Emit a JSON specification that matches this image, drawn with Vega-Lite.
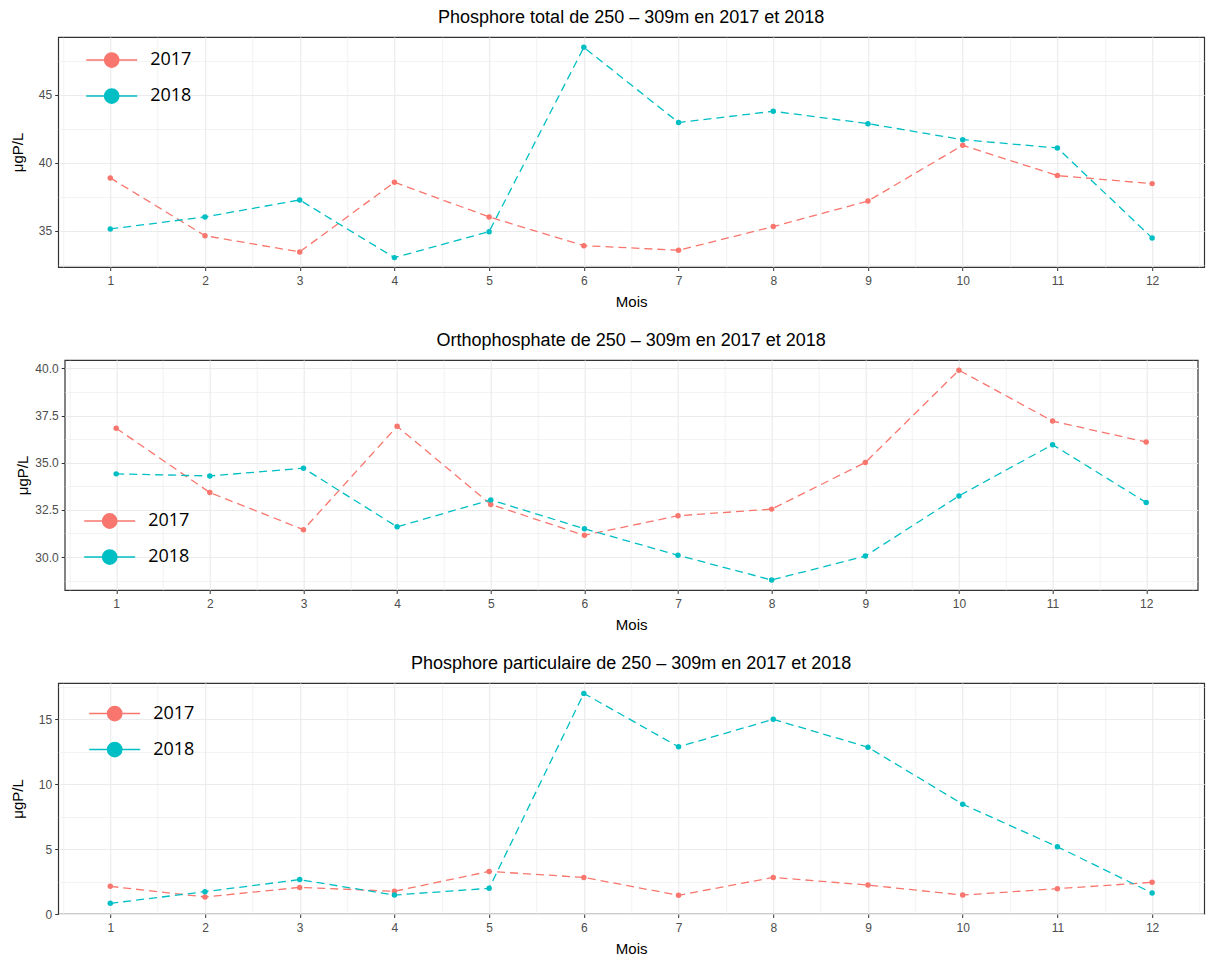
{
  "$schema": "https://vega.github.io/schema/vega-lite/v6.json",
  "padding": {"left": 9, "top": 8, "right": 5, "bottom": 5},
  "background": "white",
  "datasets": {
    "p1": [
      {"mois": 1, "annee": "2017", "value": 38.9}, {"mois": 2, "annee": "2017", "value": 34.65}, {"mois": 3, "annee": "2017", "value": 33.46},
      {"mois": 4, "annee": "2017", "value": 38.58}, {"mois": 5, "annee": "2017", "value": 36.03}, {"mois": 6, "annee": "2017", "value": 33.92},
      {"mois": 7, "annee": "2017", "value": 33.58}, {"mois": 8, "annee": "2017", "value": 35.32}, {"mois": 9, "annee": "2017", "value": 37.2},
      {"mois": 10, "annee": "2017", "value": 41.3}, {"mois": 11, "annee": "2017", "value": 39.07}, {"mois": 12, "annee": "2017", "value": 38.48},
      {"mois": 1, "annee": "2018", "value": 35.15}, {"mois": 2, "annee": "2018", "value": 36.03}, {"mois": 3, "annee": "2018", "value": 37.28},
      {"mois": 4, "annee": "2018", "value": 33.04}, {"mois": 5, "annee": "2018", "value": 34.95}, {"mois": 6, "annee": "2018", "value": 48.5},
      {"mois": 7, "annee": "2018", "value": 42.97}, {"mois": 8, "annee": "2018", "value": 43.8}, {"mois": 9, "annee": "2018", "value": 42.89},
      {"mois": 10, "annee": "2018", "value": 41.71}, {"mois": 11, "annee": "2018", "value": 41.1}, {"mois": 12, "annee": "2018", "value": 34.49}
    ],
    "p2": [
      {"mois": 1, "annee": "2017", "value": 36.83}, {"mois": 2, "annee": "2017", "value": 33.42}, {"mois": 3, "annee": "2017", "value": 31.45},
      {"mois": 4, "annee": "2017", "value": 36.93}, {"mois": 5, "annee": "2017", "value": 32.79}, {"mois": 6, "annee": "2017", "value": 31.15},
      {"mois": 7, "annee": "2017", "value": 32.19}, {"mois": 8, "annee": "2017", "value": 32.54}, {"mois": 9, "annee": "2017", "value": 35.01},
      {"mois": 10, "annee": "2017", "value": 39.91}, {"mois": 11, "annee": "2017", "value": 37.21}, {"mois": 12, "annee": "2017", "value": 36.1},
      {"mois": 1, "annee": "2018", "value": 34.41}, {"mois": 2, "annee": "2018", "value": 34.3}, {"mois": 3, "annee": "2018", "value": 34.71},
      {"mois": 4, "annee": "2018", "value": 31.6}, {"mois": 5, "annee": "2018", "value": 33.03}, {"mois": 6, "annee": "2018", "value": 31.5},
      {"mois": 7, "annee": "2018", "value": 30.09}, {"mois": 8, "annee": "2018", "value": 28.78}, {"mois": 9, "annee": "2018", "value": 30.05},
      {"mois": 10, "annee": "2018", "value": 33.24}, {"mois": 11, "annee": "2018", "value": 35.96}, {"mois": 12, "annee": "2018", "value": 32.89}
    ],
    "p3": [
      {"mois": 1, "annee": "2017", "value": 2.13}, {"mois": 2, "annee": "2017", "value": 1.31}, {"mois": 3, "annee": "2017", "value": 2.05},
      {"mois": 4, "annee": "2017", "value": 1.75}, {"mois": 5, "annee": "2017", "value": 3.28}, {"mois": 6, "annee": "2017", "value": 2.82},
      {"mois": 7, "annee": "2017", "value": 1.44}, {"mois": 8, "annee": "2017", "value": 2.82}, {"mois": 9, "annee": "2017", "value": 2.23},
      {"mois": 10, "annee": "2017", "value": 1.46}, {"mois": 11, "annee": "2017", "value": 1.95}, {"mois": 12, "annee": "2017", "value": 2.44},
      {"mois": 1, "annee": "2018", "value": 0.82}, {"mois": 2, "annee": "2018", "value": 1.72}, {"mois": 3, "annee": "2018", "value": 2.65},
      {"mois": 4, "annee": "2018", "value": 1.46}, {"mois": 5, "annee": "2018", "value": 1.98}, {"mois": 6, "annee": "2018", "value": 17.0},
      {"mois": 7, "annee": "2018", "value": 12.88}, {"mois": 8, "annee": "2018", "value": 15.0}, {"mois": 9, "annee": "2018", "value": 12.85},
      {"mois": 10, "annee": "2018", "value": 8.46}, {"mois": 11, "annee": "2018", "value": 5.18}, {"mois": 12, "annee": "2018", "value": 1.62}
    ]
  },
  "spacing": 20,
  "center": true,
  "resolve": {"scale": {"color": "independent"}, "legend": {"color": "independent"}},
  "vconcat": [
    {
      "title": "Phosphore total de 250 – 309m en 2017 et 2018",
      "width": 1146, "height": 230,
      "data": {"name": "p1"},
      "resolve": {"axis": {"x": "independent", "y": "independent"}},
      "layer": [
        {
          "mark": {"type": "line", "strokeDash": [8, 5], "strokeWidth": 1.3},
          "encoding": {
            "x": {"field": "mois", "type": "quantitative", "scale": {"domain": [0.45, 12.55], "nice": false, "zero": false},
                  "axis": {"orient": "bottom", "values": [0.5,1.5,2.5,3.5,4.5,5.5,6.5,7.5,8.5,9.5,10.5,11.5,12.5], "labels": false, "ticks": false, "domain": false, "title": null, "grid": true, "gridWidth": 0.6}},
            "y": {"field": "value", "type": "quantitative", "scale": {"domain": [32.35, 49.26], "nice": false, "zero": false},
                  "axis": {"orient": "left", "values": [32.5, 37.5, 42.5, 47.5], "labels": false, "ticks": false, "domain": false, "title": null, "grid": true, "gridWidth": 0.6}},
            "color": {"field": "annee", "type": "nominal", "scale": {"domain": ["2017", "2018"], "range": ["#F8766D", "#00BFC4"]}}
          }
        },
        {
          "mark": {"type": "point", "filled": true, "size": 30, "opacity": 1},
          "encoding": {
            "x": {"field": "mois", "type": "quantitative", "axis": {"orient": "bottom", "values": [1,2,3,4,5,6,7,8,9,10,11,12], "title": "Mois", "grid": true}},
            "y": {"field": "value", "type": "quantitative", "axis": {"orient": "left", "values": [35, 40, 45], "title": "μgP/L", "titlePadding": 13, "grid": true}},
            "color": {"field": "annee", "type": "nominal", "legend": {"title": null, "orient": "none", "legendX": 44.5, "legendY": 14,
              "encode": {"symbols": {"stroke": {"signal": "datum.value === '2018' ? '#5EB1F7' : '#F8766D'"}, "update": {"stroke": {"signal": "datum.value === '2018' ? '#5EB1F7' : '#F8766D'"}}}}}}
          }
        }
      ]
    },
    {
      "title": "Orthophosphate de 250 – 309m en 2017 et 2018",
      "width": 1133, "height": 230,
      "data": {"name": "p2"},
      "resolve": {"axis": {"x": "independent", "y": "independent"}},
      "layer": [
        {
          "mark": {"type": "line", "strokeDash": [8, 5], "strokeWidth": 1.3},
          "encoding": {
            "x": {"field": "mois", "type": "quantitative", "scale": {"domain": [0.45, 12.55], "nice": false, "zero": false},
                  "axis": {"orient": "bottom", "values": [0.5,1.5,2.5,3.5,4.5,5.5,6.5,7.5,8.5,9.5,10.5,11.5,12.5], "labels": false, "ticks": false, "domain": false, "title": null, "grid": true, "gridWidth": 0.6}},
            "y": {"field": "value", "type": "quantitative", "scale": {"domain": [28.25, 40.45], "nice": false, "zero": false},
                  "axis": {"orient": "left", "values": [28.75, 31.25, 33.75, 36.25, 38.75], "labels": false, "ticks": false, "domain": false, "title": null, "grid": true, "gridWidth": 0.6}},
            "color": {"field": "annee", "type": "nominal", "scale": {"domain": ["2017", "2018"], "range": ["#F8766D", "#00BFC4"]}}
          }
        },
        {
          "mark": {"type": "point", "filled": true, "size": 30, "opacity": 1},
          "encoding": {
            "x": {"field": "mois", "type": "quantitative", "axis": {"orient": "bottom", "values": [1,2,3,4,5,6,7,8,9,10,11,12], "title": "Mois", "grid": true}},
            "y": {"field": "value", "type": "quantitative", "axis": {"orient": "left", "values": [30, 32.5, 35, 37.5, 40], "format": ".1f", "title": "μgP/L", "grid": true}},
            "color": {"field": "annee", "type": "nominal", "legend": {"title": null, "orient": "none", "legendX": 36, "legendY": 152,
              "encode": {"symbols": {"stroke": {"signal": "datum.value === '2018' ? '#5EB1F7' : '#F8766D'"}, "update": {"stroke": {"signal": "datum.value === '2018' ? '#5EB1F7' : '#F8766D'"}}}}}}
          }
        }
      ]
    },
    {
      "title": "Phosphore particulaire de 250 – 309m en 2017 et 2018",
      "width": 1146, "height": 231,
      "data": {"name": "p3"},
      "resolve": {"axis": {"x": "independent", "y": "independent"}},
      "layer": [
        {
          "mark": {"type": "line", "strokeDash": [8, 5], "strokeWidth": 1.3},
          "encoding": {
            "x": {"field": "mois", "type": "quantitative", "scale": {"domain": [0.45, 12.55], "nice": false, "zero": false},
                  "axis": {"orient": "bottom", "values": [0.5,1.5,2.5,3.5,4.5,5.5,6.5,7.5,8.5,9.5,10.5,11.5,12.5], "labels": false, "ticks": false, "domain": false, "title": null, "grid": true, "gridWidth": 0.6}},
            "y": {"field": "value", "type": "quantitative", "scale": {"domain": [0, 17.8], "nice": false, "zero": false},
                  "axis": {"orient": "left", "values": [2.5, 7.5, 12.5, 17.5], "labels": false, "ticks": false, "domain": false, "title": null, "grid": true, "gridWidth": 0.6}},
            "color": {"field": "annee", "type": "nominal", "scale": {"domain": ["2017", "2018"], "range": ["#F8766D", "#00BFC4"]}}
          }
        },
        {
          "mark": {"type": "point", "filled": true, "size": 30, "opacity": 1},
          "encoding": {
            "x": {"field": "mois", "type": "quantitative", "axis": {"orient": "bottom", "values": [1,2,3,4,5,6,7,8,9,10,11,12], "title": "Mois", "grid": true}},
            "y": {"field": "value", "type": "quantitative", "axis": {"orient": "left", "values": [0, 5, 10, 15], "title": "μgP/L", "titlePadding": 13, "grid": true}},
            "color": {"field": "annee", "type": "nominal", "legend": {"title": null, "orient": "none", "legendX": 47.5, "legendY": 21.5,
              "encode": {"symbols": {"stroke": {"signal": "datum.value === '2018' ? '#5EB1F7' : '#F8766D'"}, "update": {"stroke": {"signal": "datum.value === '2018' ? '#5EB1F7' : '#F8766D'"}}}}}}
          }
        }
      ]
    }
  ],
  "config": {
    "view": {"stroke": "#333333", "strokeWidth": 1.2},
    "font": "Liberation Sans",
    "title": {"fontSize": 18, "fontWeight": "normal", "color": "#000000", "font": "Liberation Sans", "offset": 10, "anchor": "middle"},
    "axis": {
      "gridColor": "#EBEBEB", "gridWidth": 1.2, "domain": false,
      "tickColor": "#333333", "tickSize": 3.5, "tickWidth": 1,
      "labelColor": "#4D4D4D", "labelFontSize": 12, "labelFont": "Liberation Sans", "labelPadding": 3,
      "titleColor": "#000000", "titleFontSize": 15, "titleFontWeight": "normal", "titleFont": "Liberation Sans", "titlePadding": 4
    },
    "axisX": {"labelPadding": 5, "titlePadding": 8},
    "legend": {
      "padding": 0,
      "symbolType": "M-0.95,0 A0.95,0.95 0 1,1 0.95,0 A0.95,0.95 0 1,1 -0.95,0 Z M-3.4,0 L-1,0 M1,0 L3.4,0",
      "symbolSize": 225, "symbolStrokeWidth": 1.5, "symbolOpacity": 1,
      "labelFontSize": 18, "labelFont": "Open Sans", "labelColor": "#000000", "labelOffset": 29.5,
      "rowPadding": 14
    }
  }
}
